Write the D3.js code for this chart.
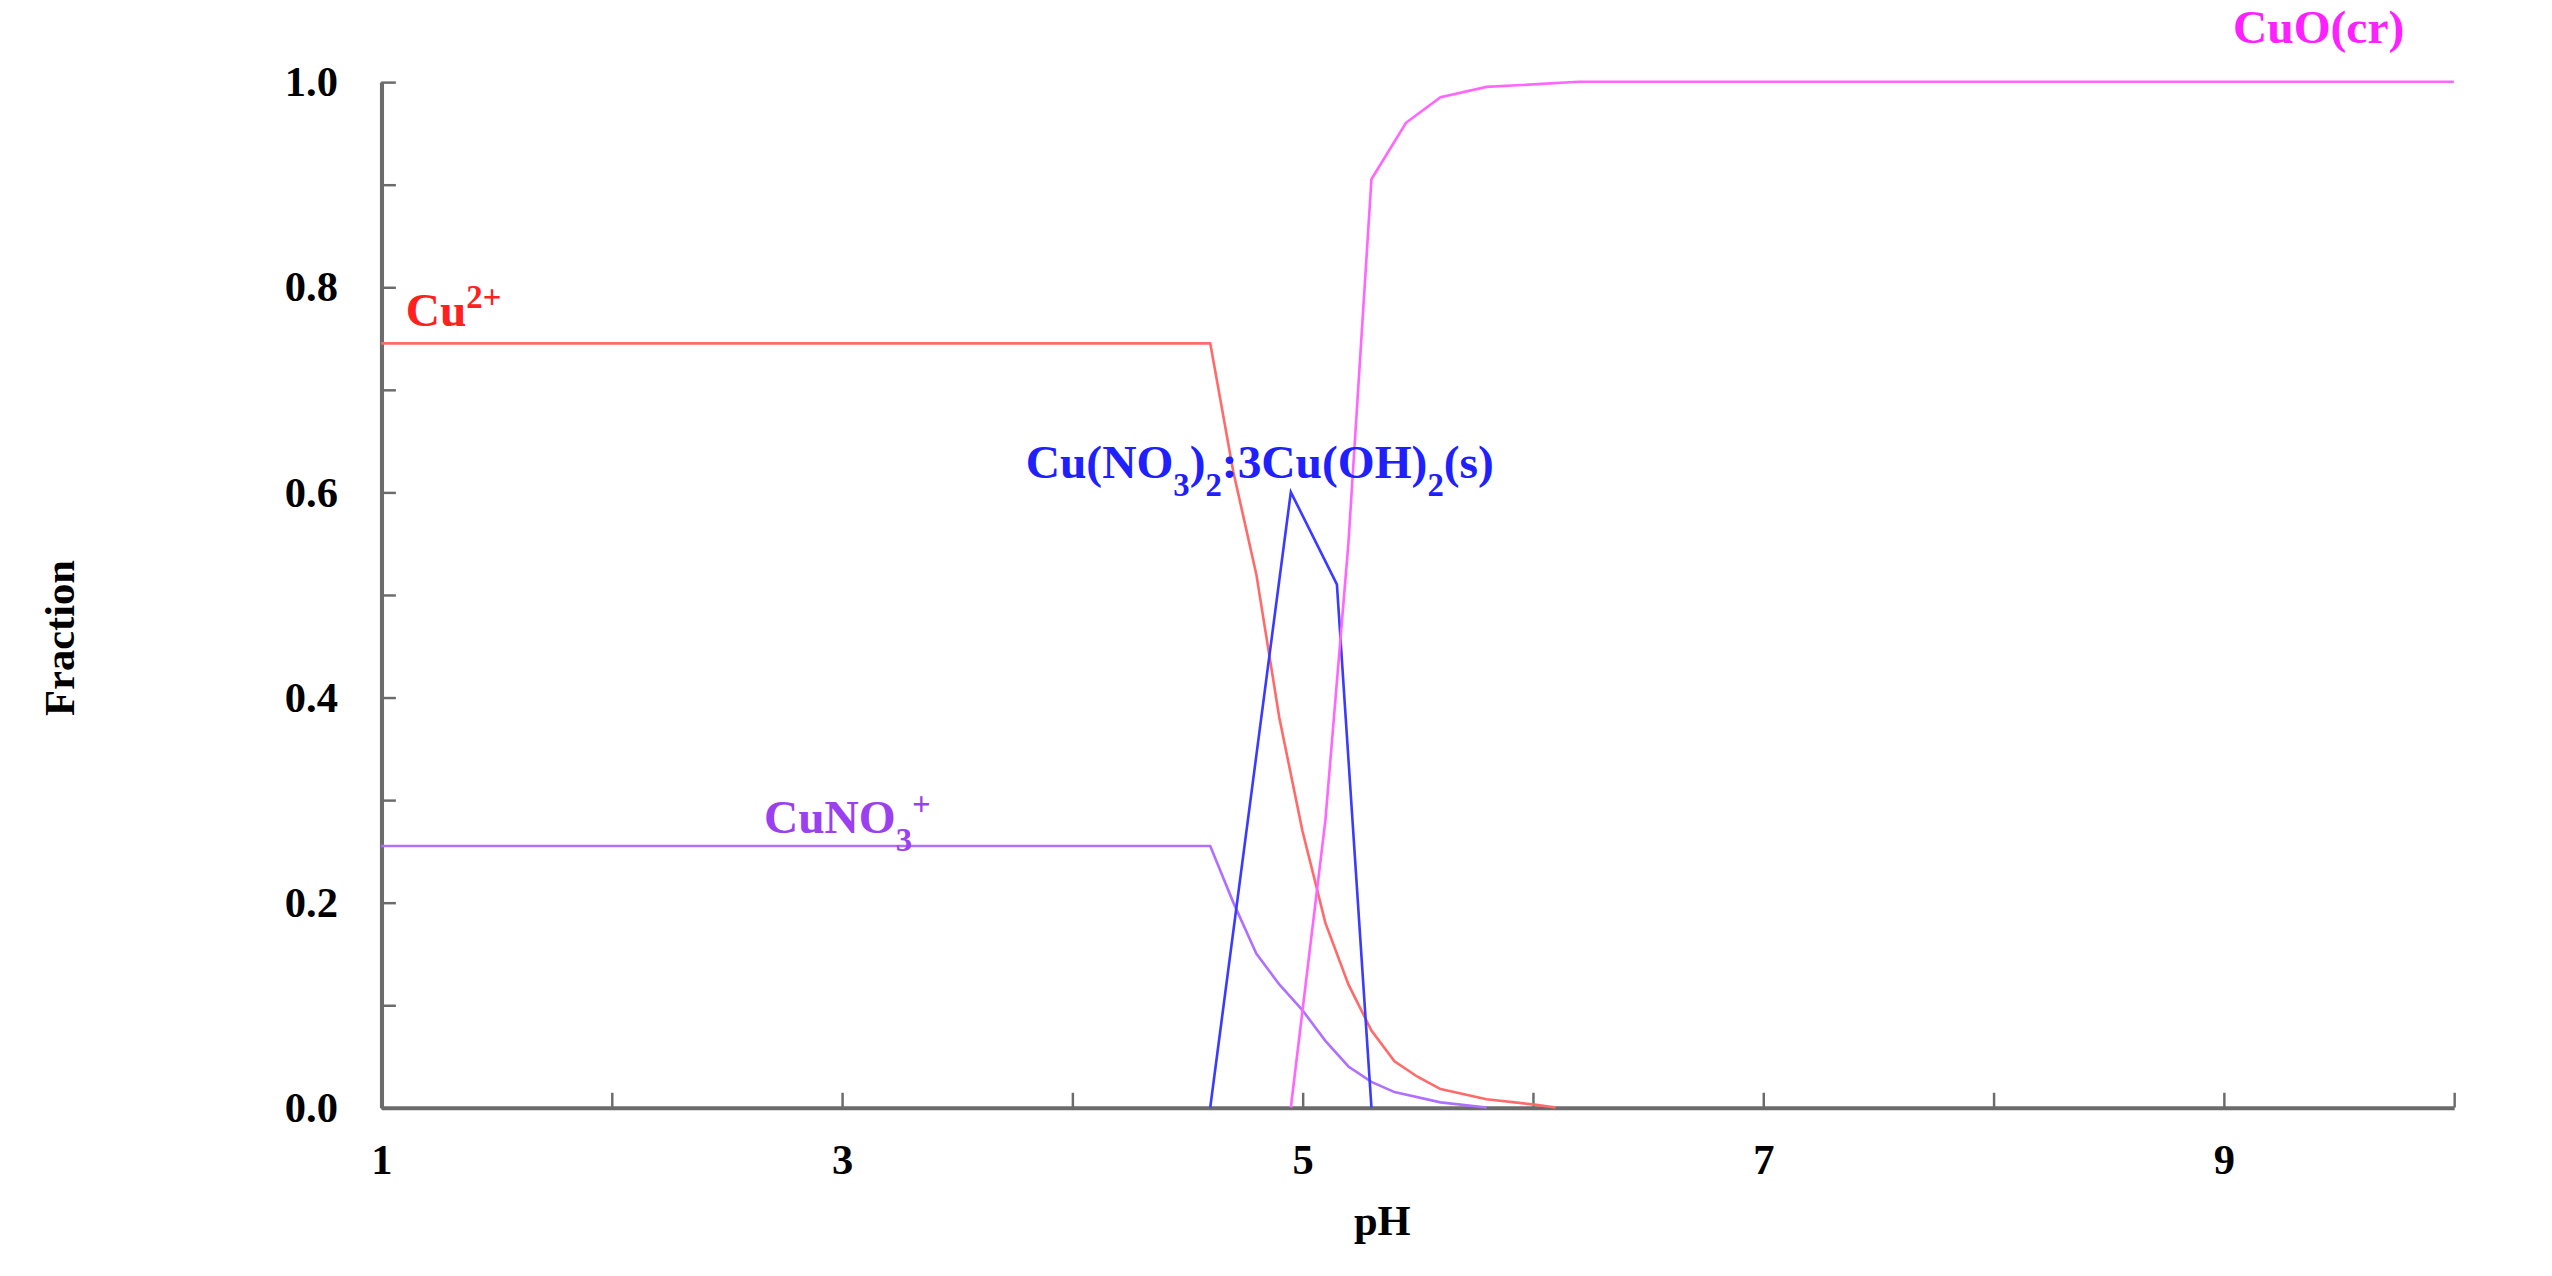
<!DOCTYPE html>
<html>
<head>
<meta charset="utf-8">
<script src="https://cdn.jsdelivr.net/npm/d3@7"></script>
<style>
  body { margin: 0; background: #fff; }
  text { font-family: "Liberation Serif", "DejaVu Serif", serif; font-weight: bold; }
</style>
</head>
<body>
<div id="chart"></div>
<script>
// series (pH, fraction)
var cuPH   = [1, 4.6, 4.7, 4.8, 4.9, 5.0, 5.1, 5.2, 5.3, 5.4, 5.5, 5.6, 5.8, 6.0, 6.1];
var cuVal  = [0.745, 0.745, 0.62, 0.52, 0.38, 0.27, 0.18, 0.12, 0.075, 0.045, 0.03, 0.018, 0.008, 0.003, 0];
var cuno3PH  = [1, 4.6, 4.7, 4.8, 4.9, 5.0, 5.1, 5.2, 5.3, 5.4, 5.6, 5.8];
var cuno3Val = [0.255, 0.255, 0.2, 0.15, 0.12, 0.095, 0.065, 0.04, 0.025, 0.015, 0.005, 0];
var nitPH  = [4.6, 4.95, 5.15, 5.3];
var nitVal = [0, 0.60, 0.51, 0];
var cuoPH  = [4.95, 5.1, 5.2, 5.3, 5.45, 5.6, 5.8, 6.2, 10];
var cuoVal = [0, 0.28, 0.55, 0.905, 0.96, 0.985, 0.995, 1, 1];

var xTicks = [1, 2, 3, 4, 5, 6, 7, 8, 9, 10];
var xLabels = [1, 3, 5, 7, 9];
var yTicks = [0, 0.1, 0.2, 0.3, 0.4, 0.5, 0.6, 0.7, 0.8, 0.9, 1.0];
var yLabels = [0, 0.2, 0.4, 0.6, 0.8, 1.0];

var svg = d3.select("#chart")
  .append("svg")
    .attr("width", 2552)
    .attr("height", 1276)
    .attr("viewBox", "0 0 1560 780");

var x = d3.scaleLinear().domain([1, 10]).range([233, 1500]);
var y = d3.scaleLinear().domain([0, 1]).range([677, 50]);

function zip(a, b) { return a.map(function(d, i) { return [d, b[i]]; }); }
var line = d3.line()
  .x(function(d) { return x(d[0]); })
  .y(function(d) { return y(d[1]); });

var series = [
  {pts: zip(cuPH, cuVal), color: "#ff6a6a"},
  {pts: zip(cuno3PH, cuno3Val), color: "#b070ff"},
  {pts: zip(nitPH, nitVal), color: "#3b3bff"},
  {pts: zip(cuoPH, cuoVal), color: "#ff66ff"}
];

// axes
var axisColor = "#6b6b6b";
var xAxis = svg.append("g")
  .attr("transform", "translate(0," + y(0) + ")")
  .call(d3.axisBottom(x).tickValues(xTicks).tickSizeInner(-9).tickSizeOuter(0)
    .tickFormat(function(d) { return xLabels.indexOf(d) >= 0 ? d : ""; }));
var yAxis = svg.append("g")
  .attr("transform", "translate(" + x(1) + ",0)")
  .call(d3.axisLeft(y).tickValues(yTicks).tickSizeInner(-9).tickSizeOuter(0)
    .tickFormat(function(d) {
      return yLabels.some(function(v) { return Math.abs(v - d) < 1e-9; }) ? d3.format(".1f")(d) : "";
    }));

[xAxis, yAxis].forEach(function(g) {
  g.select(".domain").attr("stroke", axisColor).attr("stroke-width", 2.5);
  g.selectAll(".tick line").attr("stroke", axisColor).attr("stroke-width", 1.5);
  g.selectAll("text").attr("fill", "#000").style("font-size", "26px");
});
xAxis.selectAll("text").attr("dy", "1.45em");
yAxis.selectAll("text").attr("dx", "-0.9em");

svg.selectAll("path.series")
  .data(series)
  .enter()
  .append("path")
    .attr("class", "series")
    .attr("fill", "none")
    .attr("stroke", function(d) { return d.color; })
    .attr("stroke-width", 1.6)
    .attr("d", function(d) { return line(d.pts); });

// axis titles
svg.append("text").attr("x", 845).attr("y", 755).attr("text-anchor", "middle")
  .style("font-size", "26px").text("pH");
svg.append("text").attr("transform", "translate(45,390)rotate(-90)").attr("text-anchor", "middle")
  .style("font-size", "26px").text("Fraction");

// species labels
function label(px, py, color, parts) {
  var t = svg.append("text").attr("x", px).attr("y", py).attr("fill", color).style("font-size", "29px");
  parts.forEach(function(p) {
    var s = t.append("tspan").text(p[0]);
    if (p[1] === "sup") s.attr("baseline-shift", "super").style("font-size", "20px");
    if (p[1] === "sub") s.attr("baseline-shift", "sub").style("font-size", "20px");
  });
}
label(248, 199, "#ff2020", [["Cu"], ["2+", "sup"]]);
label(627, 292, "#2020ff", [["Cu(NO"], ["3", "sub"], [")"], ["2", "sub"], [":3Cu(OH)"], ["2", "sub"], ["(s)"]]);
label(467, 509, "#9a40f0", [["CuNO"], ["3", "sub"], ["+", "sup"]]);
label(1365, 26, "#ff20ff", [["CuO(cr)"]]);
</script>
</body>
</html>
